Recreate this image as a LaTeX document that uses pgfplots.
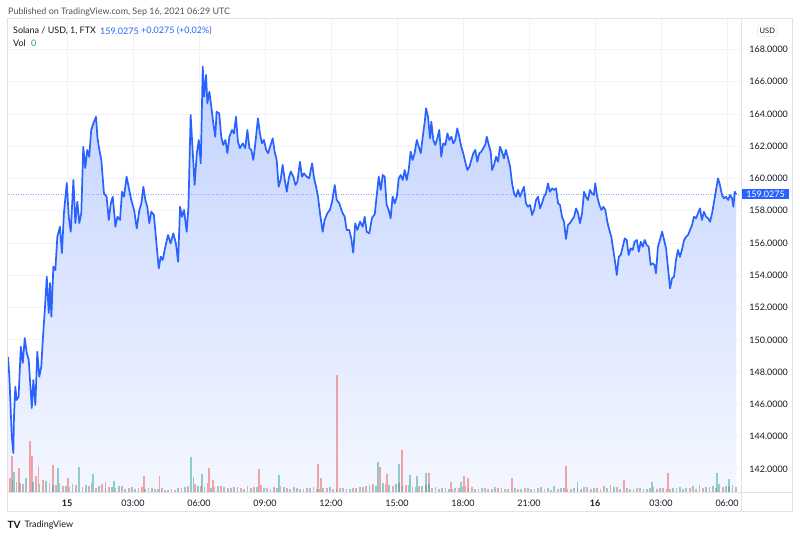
\documentclass[border=0pt]{standalone}
\usepackage{fontspec}
\setmainfont{Lato}
\usepackage{pgfplots}
\pgfplotsset{compat=1.18}
\usepackage{pgfplotstable}
\definecolor{tvblue}{HTML}{2962FF}
\definecolor{tvred}{HTML}{EF5350}
\definecolor{tvteal}{HTML}{26A69A}
\definecolor{gridc}{HTML}{F0F3FA}
\definecolor{framec}{HTML}{E0E3EB}
\definecolor{txt}{HTML}{131722}
\definecolor{subtxt}{HTML}{50535E}
\definecolor{areatop}{HTML}{C3D3FF}
\definecolor{areabot}{HTML}{F4F7FF}

\pgfplotstableread{
h p
-2.68 148.94
-2.62 147.71
-2.51 143.99
-2.44 142.98
-2.41 145.23
-2.35 147.09
-2.29 146.27
-2.20 146.47
-2.10 149.57
-2.01 148.56
-1.92 150.11
-1.83 149.18
-1.74 148.75
-1.60 145.77
-1.53 147.51
-1.44 145.96
-1.35 149.26
-1.26 147.71
-1.17 148.33
-1.10 150.00
-1.00 152.05
-0.92 153.91
-0.83 151.66
-0.77 153.52
-0.71 151.43
-0.62 154.53
-0.53 154.33
-0.44 156.39
-0.32 157.01
-0.23 155.38
-0.14 157.86
-0.01 159.72
0.08 157.63
0.17 156.70
0.29 159.91
0.38 157.24
0.47 158.56
0.56 157.24
0.65 157.86
0.74 161.97
0.83 160.65
0.92 161.77
1.01 161.35
1.10 163.01
1.20 163.42
1.32 163.83
1.38 162.59
1.47 161.77
1.56 161.15
1.68 159.08
1.80 158.87
1.90 157.43
1.99 158.46
2.08 158.87
2.20 157.01
2.29 157.63
2.41 157.43
2.50 159.18
2.59 158.87
2.71 160.11
2.80 159.49
2.92 158.67
3.05 158.05
3.17 156.91
3.29 158.05
3.38 158.46
3.47 159.49
3.56 158.67
3.65 158.25
3.74 157.23
3.83 157.94
3.95 157.74
4.08 155.77
4.17 154.43
4.26 155.15
4.35 154.95
4.47 155.77
4.59 156.50
4.71 155.98
4.83 156.60
4.95 155.98
5.05 154.84
5.14 158.25
5.23 157.63
5.32 158.05
5.44 156.70
5.52 158.25
5.62 163.94
5.71 161.77
5.80 159.60
5.90 161.57
5.99 162.39
6.08 160.94
6.17 166.93
6.23 165.07
6.32 166.42
6.38 164.66
6.47 165.38
6.56 164.45
6.65 163.42
6.74 162.59
6.80 164.14
6.92 164.04
7.01 162.59
7.10 162.08
7.20 162.39
7.29 161.57
7.38 162.59
7.50 163.01
7.59 162.80
7.68 163.83
7.77 162.28
7.86 161.88
7.99 162.18
8.10 161.88
8.20 163.01
8.29 161.88
8.38 161.77
8.47 161.15
8.56 162.18
8.68 163.73
8.77 162.80
8.86 162.18
8.95 162.39
9.05 161.77
9.14 161.57
9.23 161.97
9.35 162.49
9.44 161.66
9.53 161.15
9.62 159.49
9.71 159.91
9.80 160.84
9.90 159.91
9.99 159.18
10.08 160.02
10.17 160.43
10.29 160.11
10.38 159.60
10.47 159.80
10.59 161.04
10.68 160.11
10.77 160.32
10.90 160.11
11.01 160.02
11.14 160.94
11.23 160.02
11.32 159.49
11.41 158.87
11.50 157.84
11.62 156.70
11.71 157.43
11.83 157.84
11.95 158.05
12.05 158.56
12.17 159.60
12.26 158.67
12.38 158.46
12.50 157.94
12.62 157.63
12.71 156.81
12.83 156.81
12.92 156.29
13.01 155.40
13.10 157.22
13.20 156.81
13.32 157.33
13.44 157.01
13.53 157.63
13.62 156.70
13.74 156.60
13.86 157.55
13.99 157.80
14.08 158.98
14.17 160.11
14.26 159.29
14.35 160.22
14.44 160.11
14.53 158.36
14.62 158.05
14.71 157.53
14.80 158.87
14.90 158.46
14.99 158.87
15.08 160.02
15.17 160.22
15.26 159.91
15.35 160.53
15.44 159.91
15.53 160.53
15.62 161.66
15.71 161.15
15.80 161.57
15.90 162.39
15.99 161.97
16.08 161.57
16.17 162.59
16.26 163.52
16.32 164.35
16.41 163.83
16.50 162.49
16.56 163.52
16.65 162.39
16.74 162.08
16.83 162.49
16.92 163.01
17.01 161.35
17.10 162.18
17.20 162.08
17.29 162.80
17.38 162.39
17.47 162.59
17.56 162.18
17.65 162.39
17.74 163.11
17.83 162.59
17.92 161.97
18.01 161.57
18.10 161.04
18.20 160.53
18.29 160.73
18.38 161.15
18.47 161.57
18.56 161.77
18.65 161.04
18.74 161.57
18.83 161.66
18.92 161.88
19.01 162.08
19.08 162.59
19.17 162.08
19.26 161.66
19.32 160.53
19.41 160.84
19.50 161.35
19.59 161.04
19.68 161.97
19.77 161.66
19.86 161.25
19.95 161.77
20.05 161.25
20.14 160.73
20.23 159.70
20.32 159.08
20.41 158.87
20.50 159.29
20.59 158.87
20.68 159.18
20.77 159.49
20.86 158.46
20.95 158.25
21.05 158.36
21.14 157.74
21.23 158.05
21.32 158.67
21.41 158.87
21.50 158.15
21.59 158.46
21.68 158.87
21.77 159.08
21.86 159.70
21.95 159.18
22.05 159.39
22.14 159.29
22.23 159.39
22.32 158.46
22.41 158.36
22.50 157.63
22.59 157.32
22.68 156.25
22.77 157.12
22.86 157.23
22.95 157.43
23.05 157.63
23.14 158.15
23.23 157.84
23.32 157.23
23.41 157.84
23.50 159.18
23.59 158.87
23.68 158.67
23.77 159.29
23.86 159.08
23.95 158.98
24.01 159.70
24.10 158.87
24.20 158.36
24.29 158.05
24.38 158.25
24.47 158.05
24.56 157.32
24.65 156.81
24.74 156.39
24.83 155.57
24.92 154.74
24.99 154.02
25.08 155.15
25.17 155.26
25.26 155.77
25.35 156.29
25.44 156.19
25.53 155.26
25.62 155.67
25.71 155.57
25.80 156.08
25.90 156.19
25.99 155.46
26.08 156.08
26.17 155.77
26.26 156.19
26.35 155.88
26.44 155.77
26.53 154.64
26.62 154.74
26.71 154.64
26.77 154.12
26.86 155.77
26.95 156.19
27.05 156.70
27.14 156.19
27.23 155.67
27.32 154.43
27.41 153.19
27.50 153.81
27.59 153.91
27.68 154.95
27.77 155.57
27.86 155.15
27.95 155.57
28.05 156.19
28.14 156.39
28.23 156.50
28.32 156.81
28.41 157.12
28.50 157.63
28.59 157.53
28.68 157.84
28.77 158.15
28.86 157.43
28.95 157.94
29.05 157.63
29.14 157.53
29.23 157.32
29.32 157.84
29.41 158.56
29.50 159.29
29.59 160.01
29.68 159.60
29.77 158.98
29.86 158.77
29.95 158.87
30.05 158.67
30.14 158.98
30.23 158.77
30.29 158.25
30.35 159.18
30.41 159.03
}\price

\pgfplotstableread{
h p
30.41 140.548
-2.68 140.548
}\base
\pgfplotstablevertcat{\area}{\price}
\pgfplotstablevertcat{\area}{\base}

\pgfplotstableread{
h v
-2.6 14
-2.3 10
-2.0 8
-1.7 18
-1.4 16
-1.1 12
-0.8 9
-0.5 7
-0.2 6
0.1 5
0.4 7
0.7 5
1.0 6
1.3 4
1.6 8
1.9 5
2.2 4
2.5 6
2.8 4
3.1 3
3.4 5
3.7 4
4.0 3
4.3 4
4.6 2
4.9 2
5.2 4
5.5 6
5.8 8
6.1 6
6.4 9
6.7 5
7.0 6
7.3 4
7.6 5
7.9 4
8.2 6
8.5 5
8.8 7
9.1 4
9.4 5
9.7 6
10.0 4
10.3 5
10.6 3
10.9 4
11.2 5
11.5 3
11.8 4
12.1 3
12.4 4
12.7 3
13.0 4
13.3 5
13.6 6
13.9 8
14.2 10
14.5 8
14.8 6
15.1 9
15.4 7
15.7 5
16.0 6
16.3 7
16.6 4
16.9 3
17.2 4
17.5 3
17.8 4
18.1 6
18.4 5
18.7 3
19.0 4
19.3 3
19.6 4
19.9 3
20.2 5
20.5 3
20.8 4
21.1 3
21.4 4
21.7 3
22.0 2
22.3 3
22.6 4
22.9 3
23.2 4
23.5 5
23.8 3
24.1 4
24.4 6
24.7 7
25.0 5
25.3 4
25.6 3
25.9 4
26.2 3
26.5 4
26.8 3
27.1 4
27.4 3
27.7 4
28.0 3
28.3 4
28.6 3
28.9 4
29.2 5
29.5 4
29.8 5
30.1 6
30.4 5
-2.51 36
-2.2 24
-1.68 51
-1.60 36
-1.30 26
-0.65 27
0.06 14
1.75 10
3.51 16
4.20 16
6.47 24
6.65 12
8.74 23
11.42 28
11.55 14
12.26 117
14.23 25
14.53 18
15.21 42
16.44 19
17.44 10
18.06 16
18.24 14
20.23 14
22.67 26
25.30 12
27.33 19
}\volred

\pgfplotstableread{
h v
-2.45 12
-2.15 9
-1.85 14
-1.55 10
-1.25 8
-0.95 11
-0.65 7
-0.35 9
-0.05 6
0.25 8
0.55 5
0.85 7
1.15 9
1.45 6
1.75 4
2.05 5
2.35 6
2.65 3
2.95 5
3.25 4
3.55 3
3.85 4
4.15 3
4.45 2
4.75 3
5.05 4
5.35 5
5.65 7
5.95 6
6.25 5
6.55 4
6.85 6
7.15 5
7.45 4
7.75 5
8.05 3
8.35 4
8.65 5
8.95 4
9.25 3
9.55 4
9.85 5
10.15 3
10.45 4
10.75 3
11.05 4
11.35 3
11.65 4
11.95 5
12.25 3
12.55 4
12.85 3
13.15 4
13.45 5
13.75 7
14.05 6
14.35 9
14.65 7
14.95 8
15.25 6
15.55 7
15.85 5
16.15 6
16.45 8
16.75 5
17.05 4
17.35 3
17.65 4
17.95 5
18.25 4
18.55 3
18.85 4
19.15 3
19.45 5
19.75 4
20.05 3
20.35 4
20.65 3
20.95 4
21.25 3
21.55 5
21.85 4
22.15 6
22.45 4
22.75 3
23.05 4
23.35 3
23.65 5
23.95 4
24.25 3
24.55 4
24.85 5
25.15 3
25.45 4
25.75 3
26.05 4
26.35 3
26.65 5
26.95 4
27.25 3
27.55 4
27.85 5
28.15 4
28.45 6
28.75 7
29.05 5
29.35 6
29.65 8
29.95 6
30.25 7
-2.4 20
-0.40 24
0.56 25
1.17 18
2.15 11
5.62 35
5.75 15
6.12 18
9.62 17
14.12 30
15.10 28
15.59 17
15.90 16
16.32 19
17.90 10
23.20 10
26.60 10
29.53 19
30.10 13
}\volteal

\newcommand{\sz}{\fontsize{9}{10}\selectfont}

\begin{document}
\begin{tikzpicture}[x=1bp,y=1bp]
\useasboundingbox (0,0) rectangle (800,538);
\fill[white] (0,0) rectangle (800,538);

\begin{axis}[
  at={(8bp,45.7bp)}, anchor=south west,
  scale only axis, width=733.7bp, height=473bp,
  xmin=-2.682, xmax=30.668, ymin=140.548, ymax=169.872,
  axis line style={draw=none}, major tick length=0pt,
  grid=major, grid style={gridc, line width=1bp},
  xtick={0,3,...,30},
  xticklabels={\textbf{15},03:00,06:00,09:00,12:00,15:00,18:00,21:00,\textbf{16},03:00,06:00},
  ytick={142,144,...,168},
  yticklabel pos=right,
  /pgf/number format/assume math mode=true,
  yticklabel style={anchor=west, inner sep=0pt, xshift=7.5bp, font=\sz, text=txt,
    /pgf/number format/fixed, /pgf/number format/fixed zerofill,
    /pgf/number format/precision=4, /pgf/number format/1000 sep={}},
  xticklabel style={anchor=center, inner sep=0pt, yshift=-10.6bp, font=\sz, text=txt},
]
\addplot[draw=none, top color=areatop, bottom color=areabot] table[x=h,y=p]{\area};
\addplot[tvblue!55, line width=0.7bp, dash pattern=on 1bp off 1.5bp] coordinates {(-2.682,159.0275) (30.668,159.0275)};
\addplot[tvblue, line width=1.7bp, line join=round] table[x=h,y=p]{\price};
\end{axis}

\begin{axis}[
  at={(8bp,45.7bp)}, anchor=south west,
  scale only axis, width=733.7bp, height=473bp,
  xmin=-2.682, xmax=30.668, ymin=0, ymax=473,
  hide axis,
]
\addplot[ycomb, no markers, tvred, opacity=0.5, line width=1.8bp] table[x=h,y=v]{\volred};
\addplot[ycomb, no markers, tvteal, opacity=0.5, line width=1.8bp] table[x=h,y=v]{\volteal};
\end{axis}

% frame
\draw[framec, line width=1bp] (7.5,26.3) rectangle (792.7,519);
\draw[framec, line width=1bp] (741.7,26.3) -- (741.7,519);
\draw[framec, line width=1bp] (7.5,45.7) -- (792.7,45.7);

% header texts
\node[anchor=west, inner sep=0pt, text=subtxt, font=\sz] at (8,526) {Published on TradingView.com, Sep 16, 2021 06:29 UTC};
\node[anchor=west, inner sep=0pt, text=txt, font=\sz] at (13,507) {Solana / USD, 1, FTX};
\node[anchor=west, inner sep=0pt, text=tvblue, font=\sz] at (100,507) {159.0275};
\node[anchor=west, inner sep=0pt, text=tvblue, font=\sz] at (141,507) {+0.0275 (+0.02\%)};
\node[anchor=west, inner sep=0pt, text=txt, font=\sz] at (13,495) {Vol};
\node[anchor=west, inner sep=0pt, text=tvteal, font=\sz] at (31,495) {0};

% USD box
\node[draw=framec, rounded corners=2bp, text=txt, font=\fontsize{7.5}{8}\selectfont, minimum width=20bp, minimum height=10.7bp, inner sep=0pt] at (767.3,506.7) {USD};

% current price tag
\node[fill=tvblue, text=white, font=\sz, minimum width=47.6bp, minimum height=10bp, inner sep=0pt] at (765.5,343.7) {159.0275};

% bottom logo
\node[anchor=west, inner sep=0pt, text=txt, font=\fontsize{10}{10}\selectfont\bfseries] at (7.5,13) {TV};
\node[anchor=west, inner sep=0pt, text=txt, font=\sz] at (24.5,13) {TradingView};
\end{tikzpicture}
\end{document}
